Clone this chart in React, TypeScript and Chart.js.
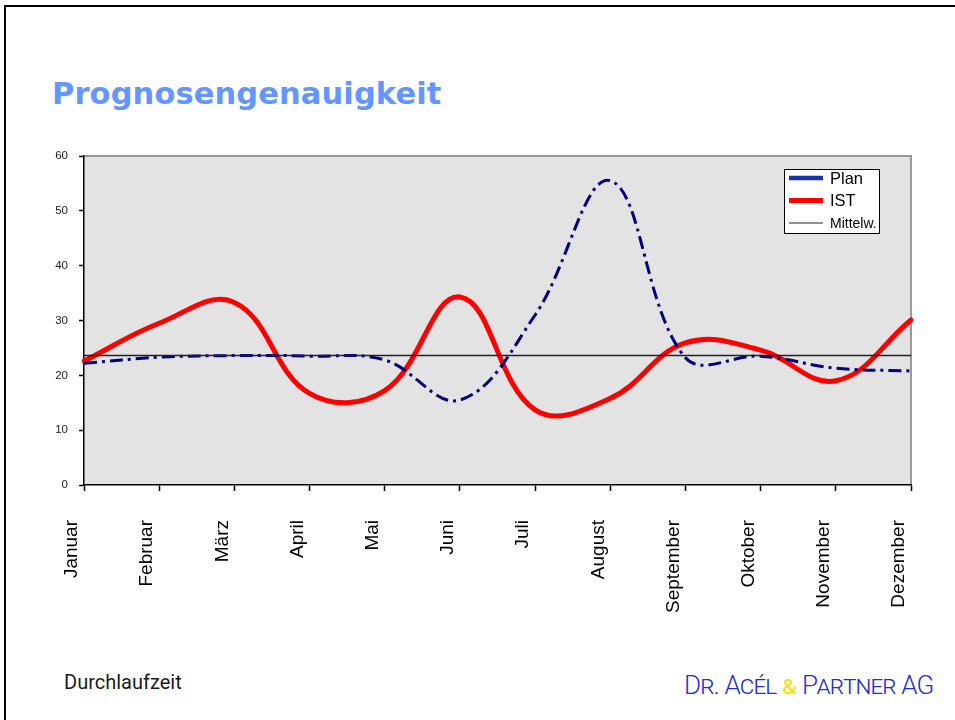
import React, { useEffect, useRef } from "react";
import { Chart, registerables } from "chart.js";

Chart.register(...registerables);

const months = [
  "Januar", "Februar", "März", "April", "Mai", "Juni",
  "Juli", "August", "September", "Oktober", "November", "Dezember",
];
const planValues = [22.2, 23.3, 23.6, 23.5, 22.8, 15.5, 31.0, 55.5, 23.2, 23.5, 21.3, 20.8];
const istValues = [22.6, 29.5, 33.3, 16.7, 17.2, 34.3, 13.7, 15.8, 25.9, 24.6, 19.0, 30.1];
const mittelValues = [23.6, 23.6, 23.6, 23.6, 23.6, 23.6, 23.6, 23.6, 23.6, 23.6, 23.6, 23.6];
const yTicks = [0, 10, 20, 30, 40, 50, 60];
const legendItems = [
  { label: "Plan", color: "#1432AA", width: 4.5, font: 16.5 },
  { label: "IST", color: "#FF0000", width: 5, font: 16.5 },
  { label: "Mittelw.", color: "#222222", width: 1.2, font: 14 },
];

const plotPlugin = {
  id: "plotDeco",
  beforeDraw(chart: any) {
    const { ctx, chartArea: a } = chart;
    ctx.save();
    ctx.fillStyle = "#E3E3E3";
    ctx.fillRect(a.left, a.top, a.right - a.left, a.bottom - a.top);
    ctx.strokeStyle = "#999999";
    ctx.lineWidth = 2;
    ctx.beginPath();
    ctx.moveTo(a.left, a.top);
    ctx.lineTo(a.right, a.top);
    ctx.lineTo(a.right, a.bottom);
    ctx.stroke();
    ctx.restore();
  },
  afterDraw(chart: any) {
    const { ctx, chartArea: a } = chart;
    const bx = a.right - 127;
    const by = a.top + 13;
    const bw = 95;
    const bh = 64;
    ctx.save();
    ctx.fillStyle = "#FFFFFF";
    ctx.fillRect(bx, by, bw, bh);
    ctx.strokeStyle = "#000000";
    ctx.lineWidth = 1;
    ctx.strokeRect(bx + 0.5, by + 0.5, bw, bh);
    legendItems.forEach((it, i) => {
      const cy = by + 9 + i * 22.5;
      ctx.strokeStyle = it.color;
      ctx.lineWidth = it.width;
      ctx.beginPath();
      ctx.moveTo(bx + 5, cy);
      ctx.lineTo(bx + 39, cy);
      ctx.stroke();
      ctx.fillStyle = "#000000";
      ctx.font = `${it.font}px Arial, "Liberation Sans", sans-serif`;
      ctx.textBaseline = "middle";
      ctx.textAlign = "left";
      ctx.fillText(it.label, bx + 46, cy + 1);
    });
    ctx.restore();
  },
};

function ChartView() {
  const ref = useRef<HTMLCanvasElement | null>(null);
  useEffect(() => {
    if (!ref.current) return;
    const chart = new Chart(ref.current, {
      type: "line",
      data: {
        labels: months,
        datasets: [
          {
            label: "Mittelw.",
            data: mittelValues,
            borderColor: "#222222",
            borderWidth: 1.5,
            pointRadius: 0,
            tension: 0,
          },
          {
            label: "Plan",
            data: planValues,
            borderColor: "#000080",
            borderWidth: 3,
            borderDash: [13, 5, 3, 5],
            pointRadius: 0,
            tension: 0.38,
          },
          {
            label: "IST",
            data: istValues,
            borderColor: "#FF0000",
            borderWidth: 5,
            pointRadius: 0,
            tension: 0.4,
            borderCapStyle: "round",
          },
        ],
      },
      options: {
        responsive: false,
        animation: false,
        layout: { padding: { left: 0, right: 44, top: 16, bottom: 0 } },
        plugins: {
          legend: { display: false },
          tooltip: { enabled: false },
        },
        scales: {
          x: {
            offset: false,
            grid: {
              display: true,
              drawOnChartArea: false,
              drawTicks: true,
              tickLength: 6,
              tickColor: "#000000",
              tickWidth: 1.5,
            },
            border: { display: true, color: "#000000", width: 1.5 },
            ticks: {
              autoSkip: false,
              minRotation: 90,
              maxRotation: 90,
              padding: 29,
              labelOffset: -12,
              color: "#000000",
              font: { family: "Arial, 'Liberation Sans', sans-serif", size: 19 },
            },
            afterFit(scale: any) {
              scale.height = 155;
              scale.paddingLeft = 0;
              scale.paddingRight = 0;
            },
          },
          y: {
            min: 0,
            max: 60,
            afterBuildTicks(scale: any) {
              scale.ticks = yTicks.map((v) => ({ value: v }));
            },
            grid: {
              display: true,
              drawOnChartArea: false,
              drawTicks: true,
              tickLength: 5,
              tickColor: "#000000",
              tickWidth: 1.5,
            },
            border: { display: true, color: "#000000", width: 1.5 },
            ticks: {
              padding: 11,
              color: "#222222",
              font: { family: "Arial, 'Liberation Sans', sans-serif", size: 11.5 },
            },
            afterFit(scale: any) {
              scale.width = 84;
              scale.paddingTop = 0;
              scale.paddingBottom = 0;
            },
          },
        },
      },
      plugins: [plotPlugin],
    });
    return () => chart.destroy();
  }, []);
  return (
    <canvas
      ref={ref}
      width={955}
      height={500}
      style={{ position: "absolute", left: 0, top: 140, width: 955, height: 500 }}
    />
  );
}

export default function App() {
  useEffect(() => {
    document.body.style.margin = "0";
  }, []);
  return (
    <div
      style={{
        position: "relative",
        width: 955,
        height: 720,
        overflow: "hidden",
        background: "#FFFFFF",
      }}
    >
      <div
        style={{
          position: "absolute",
          left: 4,
          top: 5,
          width: 1000,
          height: 800,
          borderTop: "2px solid #000",
          borderLeft: "2px solid #000",
        }}
      />
      <div
        style={{
          position: "absolute",
          left: 52,
          top: 79,
          fontFamily: "'DejaVu Sans', Arial, sans-serif",
          fontWeight: 700,
          fontSize: 30.5,
          lineHeight: "30.5px",
          letterSpacing: 0.1,
          color: "#6496FF",
          whiteSpace: "nowrap",
        }}
      >
        Prognosengenauigkeit
      </div>
      <ChartView />
      <div
        style={{
          position: "absolute",
          left: 64,
          top: 672,
          fontFamily: "Roboto, Arial, sans-serif",
          fontSize: 20,
          lineHeight: "20px",
          color: "#1A1A1A",
          whiteSpace: "nowrap",
        }}
      >
        Durchlaufzeit
      </div>
      <div
        style={{
          position: "absolute",
          left: 684,
          top: 672,
          fontFamily: "Roboto, Arial, sans-serif",
          fontWeight: 300,
          fontSize: 26,
          lineHeight: "26px",
          fontVariant: "small-caps",
          color: "#2030D0",
          whiteSpace: "nowrap",
          letterSpacing: -0.85,
        }}
      >
        Dr. Acél <span style={{ color: "#F2E21A", fontWeight: 400 }}>&amp;</span> Partner AG
      </div>
    </div>
  );
}
